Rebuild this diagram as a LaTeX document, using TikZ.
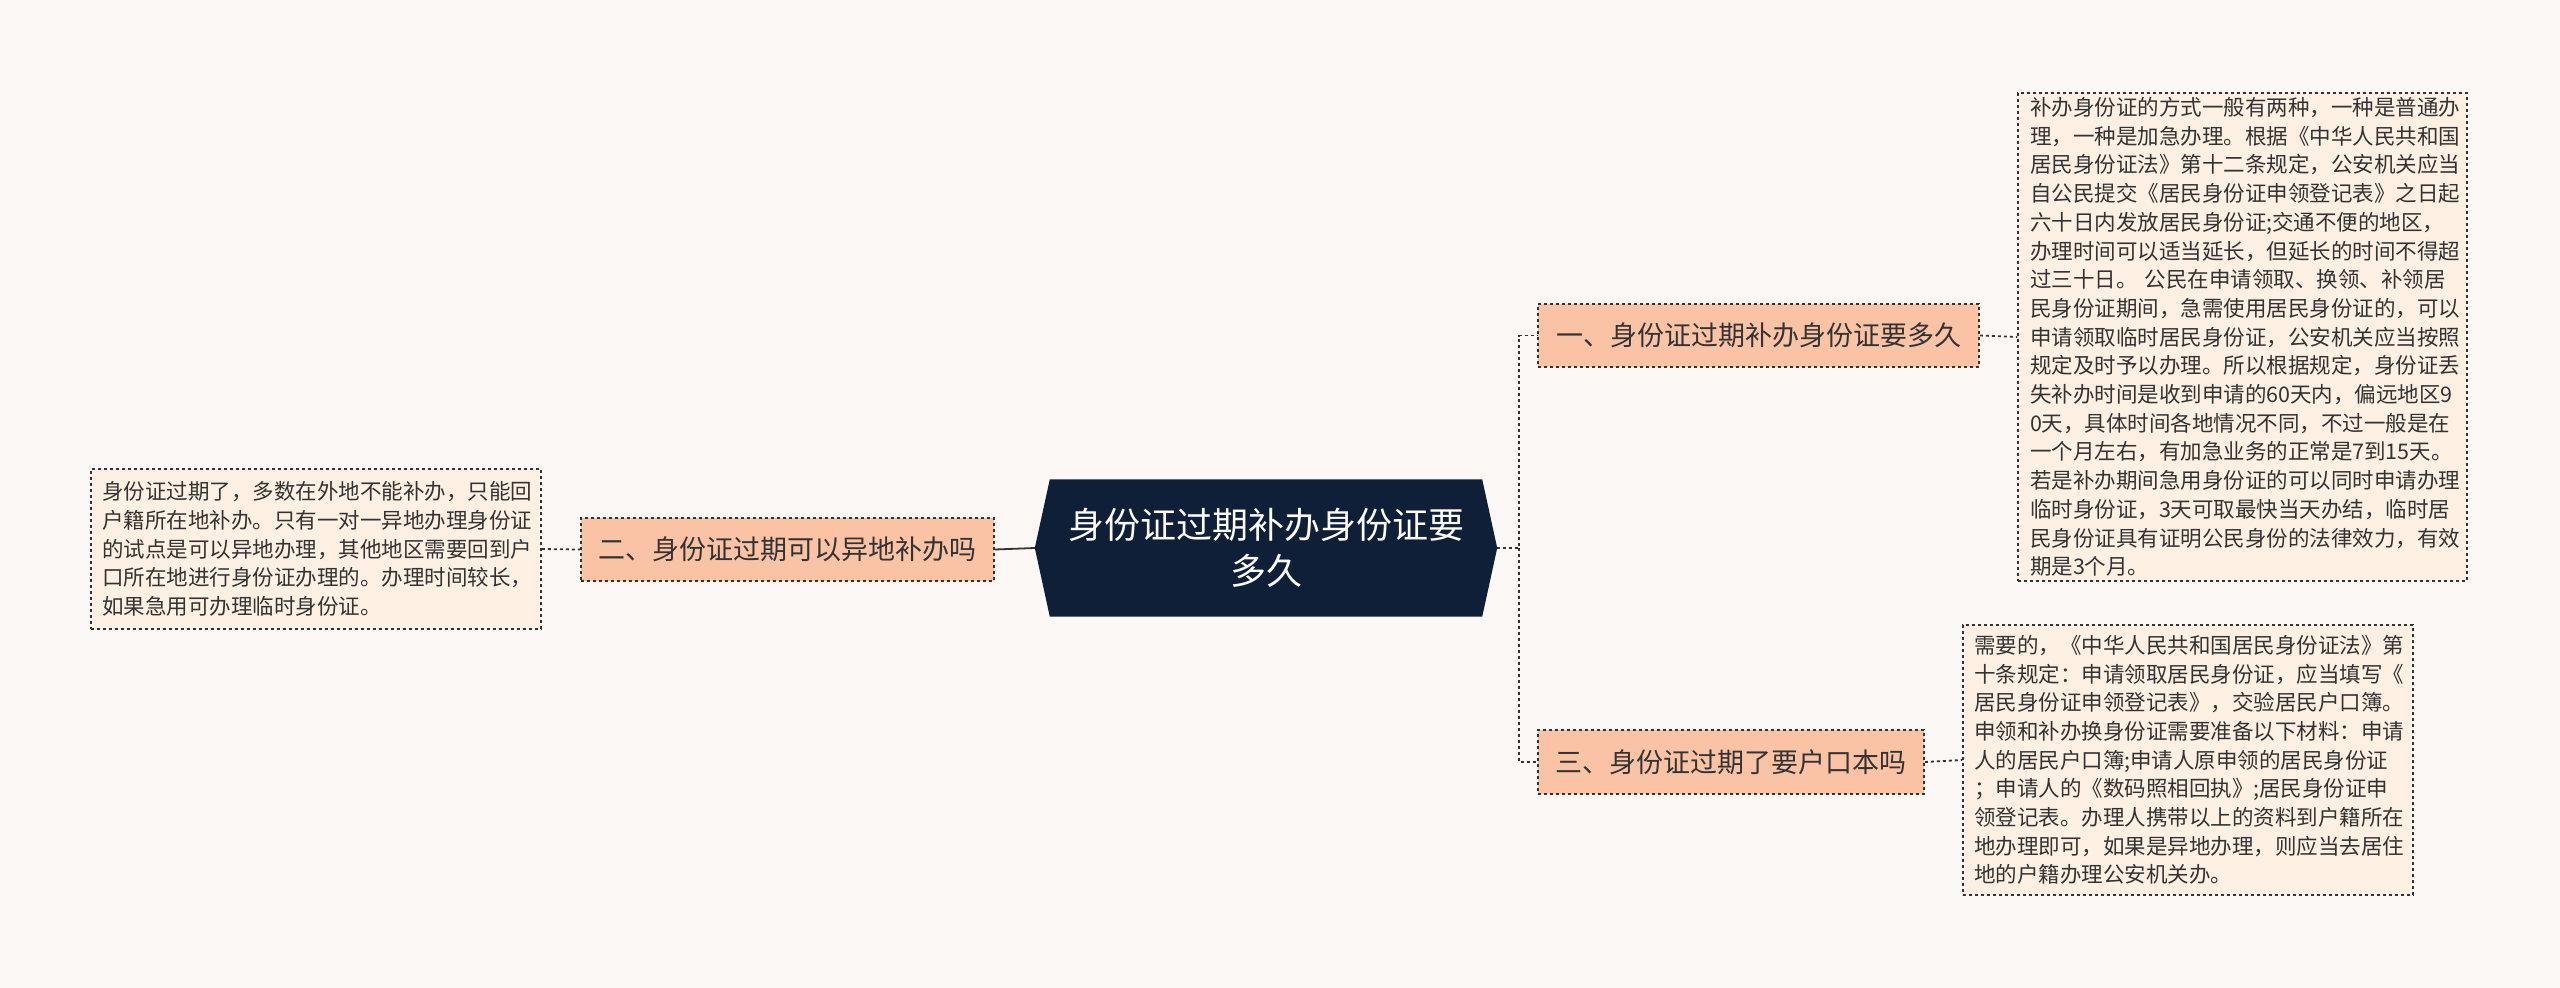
\documentclass[tikz,border=0pt]{standalone}
\usepackage{fontspec}
\setmainfont{Noto Sans CJK SC}
\definecolor{bg}{HTML}{FCF8F6}
\definecolor{navy}{HTML}{0F1F37}
\definecolor{branch}{HTML}{FBC3A5}
\definecolor{leaf}{HTML}{FEF0E2}
\definecolor{ln}{HTML}{333333}
\tikzset{
 br/.style={draw=ln,dashed,line width=1.6pt,fill=branch,font=\fontsize{27}{32}\selectfont,text=ln,inner sep=0pt},
 lf/.style={draw=ln,dashed,line width=1.6pt,fill=leaf,font=\fontsize{21.5}{28.7}\selectfont,text=ln,align=left,inner sep=0pt},
 con/.style={draw=ln,dashed,line width=1.8pt}
}
\begin{document}
\begin{tikzpicture}[x=1pt,y=-1pt]
\fill[bg] (0,0) rectangle (2560,988);
\useasboundingbox (0,0) rectangle (2560,988);
\node[inner sep=0pt,minimum width=432pt,minimum height=137pt,text=white,align=center,font=\fontsize{36}{46}\selectfont] (c) at (1266,548) {};
\fill[navy] ([xshift=-15pt]c.west) -- (c.north west) -- (c.north east) -- ([xshift=15pt]c.east) -- (c.south east) -- (c.south west) -- cycle;
\node[text=white,align=center,font=\fontsize{36}{46}\selectfont] at (c) {身份证过期补办身份证要\\多久};
\node[br,minimum width=441pt,minimum height=63pt] (n1) at (1758.5,335.5) {一、身份证过期补办身份证要多久};
\node[br,minimum width=386pt,minimum height=64pt] (n3) at (1731,762) {三、身份证过期了要户口本吗};
\node[br,minimum width=413pt,minimum height=63pt] (n2) at (787.5,549.5) {二、身份证过期可以异地补办吗};
\node[lf,minimum width=449pt,minimum height=488pt,text width=425pt] (l1) at (2242.5,337) {补办身份证的方式一般有两种，一种是普通办\\理，一种是加急办理。根据《中华人民共和国\\居民身份证法》第十二条规定，公安机关应当\\自公民提交《居民身份证申领登记表》之日起\\六十日内发放居民身份证;交通不便的地区，\\办理时间可以适当延长，但延长的时间不得超\\过三十日。 公民在申请领取、换领、补领居\\民身份证期间，急需使用居民身份证的，可以\\申请领取临时居民身份证，公安机关应当按照\\规定及时予以办理。所以根据规定，身份证丢\\失补办时间是收到申请的60天内，偏远地区9\\0天，具体时间各地情况不同，不过一般是在\\一个月左右，有加急业务的正常是7到15天。\\若是补办期间急用身份证的可以同时申请办理\\临时身份证，3天可取最快当天办结，临时居\\民身份证具有证明公民身份的法律效力，有效\\期是3个月。};
\node[lf,minimum width=450pt,minimum height=270pt,text width=428pt] (l3) at (2188,760) {需要的，《中华人民共和国居民身份证法》第\\十条规定：申请领取居民身份证，应当填写《\\居民身份证申领登记表》，交验居民户口簿。\\申领和补办换身份证需要准备以下材料：申请\\人的居民户口簿;申请人原申领的居民身份证\\；申请人的《数码照相回执》;居民身份证申\\领登记表。办理人携带以上的资料到户籍所在\\地办理即可，如果是异地办理，则应当去居住\\地的户籍办理公安机关办。};
\node[lf,minimum width=450pt,minimum height=160pt,text width=428pt] (l2) at (316,549) {身份证过期了，多数在外地不能补办，只能回\\户籍所在地补办。只有一对一异地办理身份证\\的试点是可以异地办理，其他地区需要回到户\\口所在地进行身份证办理的。办理时间较长，\\如果急用可办理临时身份证。};
\coordinate (e) at (1519,548);
\draw[con] ([xshift=15pt]c.east) -- (e) |- (n1.west);
\draw[con] (e) |- (n3.west);
\draw[draw=ln,line width=1.8pt] (n2.east) -- ([xshift=-15pt]c.west);
\draw[con] (l2.east) -- (n2.west);
\draw[con] (n1.east) -- (l1.west);
\draw[con] (n3.east) -- (l3.west);
\end{tikzpicture}
\end{document}
